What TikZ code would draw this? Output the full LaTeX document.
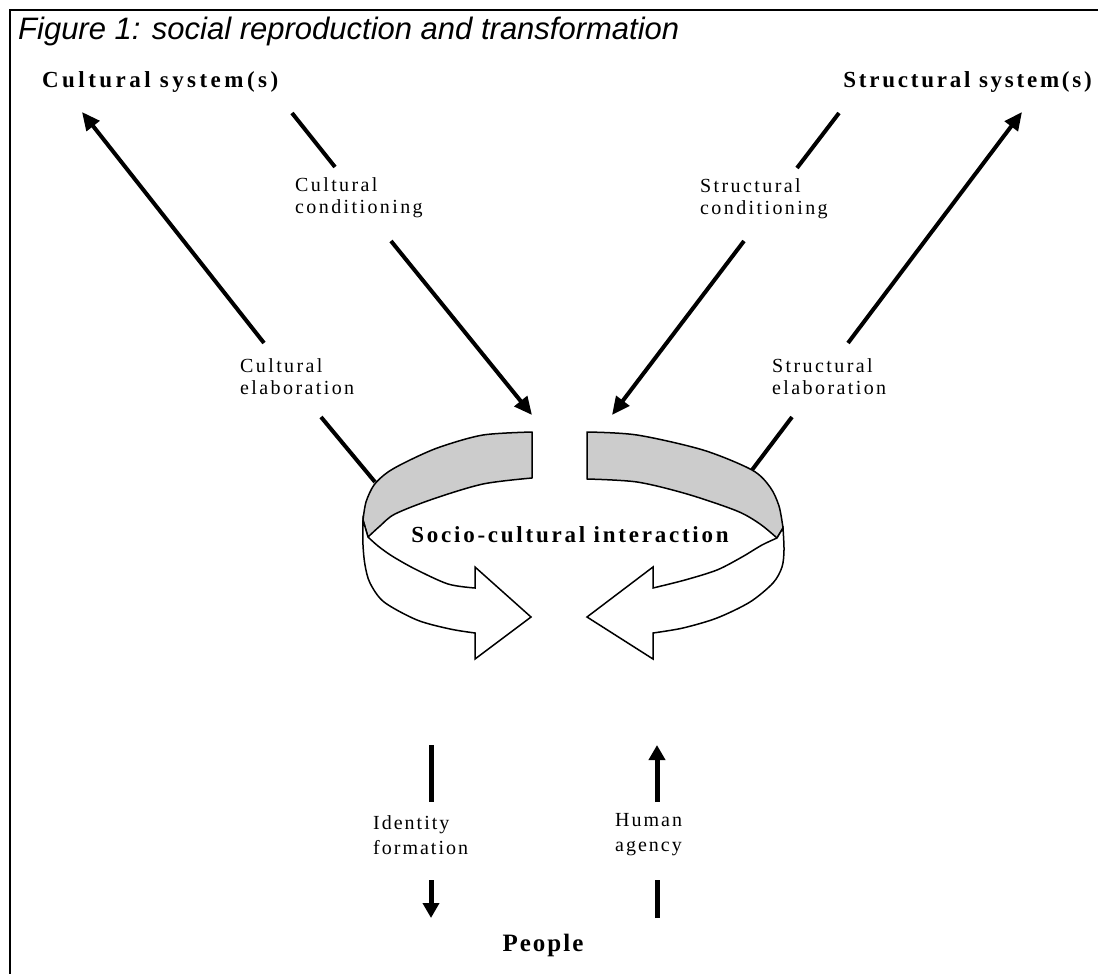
\documentclass[tikz,border=0pt]{standalone}
\usepackage{fontspec}
\setmainfont{Liberation Serif}
\newfontfamily\titlefont{Liberation Sans}
\usetikzlibrary{arrows.meta,calc}
\tikzset{
  headtxt/.style={font=\fontsize{23}{26}\selectfont\bfseries\addfontfeature{LetterSpace=12}, inner sep=0pt},
  lbl/.style={font=\fontsize{20}{22}\selectfont\addfontfeature{LetterSpace=12}, align=left, inner sep=0pt, anchor=west},
  lblb/.style={font=\fontsize{20}{25}\selectfont\addfontfeature{LetterSpace=10}, align=left, inner sep=0pt, anchor=west},
  conn/.style={line width=4pt},
  conna/.style={conn, -{Triangle[length=18pt,width=16pt]}},
  vconn/.style={line width=5pt},
  vconna/.style={vconn, -{Triangle[length=15pt,width=16pt]}},
  band/.style={draw=black, line width=1.5pt, fill=black!20, line join=round},
  ribbon/.style={draw=black, line width=1.5pt, fill=white, line join=miter},
}
\begin{document}
\begin{tikzpicture}[x=1pt,y=-1pt]
\useasboundingbox (0,0) rectangle (1098,974);
% frame
\draw[line width=2pt] (10,974) -- (10,10) -- (1098,10);
% title
\node[anchor=base west, inner sep=0pt, font=\titlefont\itshape\fontsize{31}{34}\selectfont] (title) at (18,40) {Figure 1: social reproduction and transformation};
% headings
\node[headtxt, anchor=base west, font=\fontsize{23}{26}\selectfont\bfseries\addfontfeature{LetterSpace=15}] (csys) at (42,88) {Cultural system(s)};
\node[headtxt, anchor=base east] (ssys) at (1092,88) {Structural system(s)};
\node[headtxt] (sci) at (570,535) {Socio-cultural interaction};
\node[headtxt, font=\fontsize{25}{28}\selectfont\bfseries\addfontfeature{LetterSpace=8}] (people) at (543,945) {People};
% labels
\node[lbl] (ccond) at (295,198) {Cultural\\conditioning};
\node[lbl] (scond) at (700,199) {Structural\\conditioning};
\node[lbl] (celab) at (240,377) {Cultural\\elaboration};
\node[lbl] (selab) at (772,377) {Structural\\elaboration};
\node[lblb] (idf) at (373,835) {Identity\\formation};
\node[lblb] (hag) at (615,835) {Human\\agency};
% ring: left half
\filldraw[band] plot[smooth] coordinates {(532,432) (483,435) (440,447) (410,460) (388,472) (374,485) (366,502) (363,520)}
  -- (368,537)
  -- plot[smooth] coordinates {(368,537) (380,526) (395,514) (433,499) (483,484) (532,478)} -- cycle;
\filldraw[ribbon] plot[smooth] coordinates {(363,520) (363,545) (365,565) (370,583) (384,602) (417,620) (450,629) (475,633)}
  -- (475,659) -- (531,617) -- (475,567) -- (475,588)
  -- plot[smooth] coordinates {(475,588) (448,584) (415,569) (392,556) (378,546) (368,537)} -- cycle;
% ring: right half
\filldraw[band] plot[smooth] coordinates {(587,432) (637,435) (703,450) (752,470) (770,487) (779,506) (783,528)}
  -- (777,538)
  -- plot[smooth] coordinates {(777,538) (760,524) (737,511) (687,494) (637,482) (587,479)} -- cycle;
\filldraw[ribbon] plot[smooth] coordinates {(783,528) (784,550) (782,567) (773,583) (750,602) (717,618) (683,628) (653,633)}
  -- (653,659) -- (587,617) -- (653,567) -- (653,588)
  -- plot[smooth] coordinates {(653,588) (685,580) (717,570) (742,557) (762,545) (777,538)} -- cycle;
% coordinates for connectors
\coordinate (ceA) at (375,482);
\coordinate (ceB) at (321,417);
\coordinate (ceC) at (264,343);
\coordinate (ceT) at (82,112);
\coordinate (ccA) at (292,113);
\coordinate (ccB) at (335,167);
\coordinate (ccC) at (391,241);
\coordinate (ccT) at (532,415);
\coordinate (scA) at (839,113);
\coordinate (scB) at (797,168);
\coordinate (scC) at (744,241);
\coordinate (scT) at (612,415);
\coordinate (seA) at (752,470);
\coordinate (seB) at (792,417);
\coordinate (seC) at (848,343);
\coordinate (seT) at (1022,112);
\coordinate (ifA) at (431,745);
\coordinate (ifB) at (431,802);
\coordinate (ifC) at (431,880);
\coordinate (ifT) at (431,918);
\coordinate (haA) at (657,918);
\coordinate (haB) at (657,880);
\coordinate (haC) at (657,802);
\coordinate (haT) at (657,745);
% connectors
\draw[conn] (ceA) -- (ceB);
\draw[conna] (ceC) -- (ceT);
\draw[conn] (ccA) -- (ccB);
\draw[conna] (ccC) -- (ccT);
\draw[conn] (scA) -- (scB);
\draw[conna] (scC) -- (scT);
\draw[conn] (seA) -- (seB);
\draw[conna] (seC) -- (seT);
\draw[vconn] (ifA) -- (ifB);
\draw[vconna] (ifC) -- (ifT);
\draw[vconn] (haA) -- (haB);
\draw[vconna] (haC) -- (haT);
\end{tikzpicture}
\end{document}
